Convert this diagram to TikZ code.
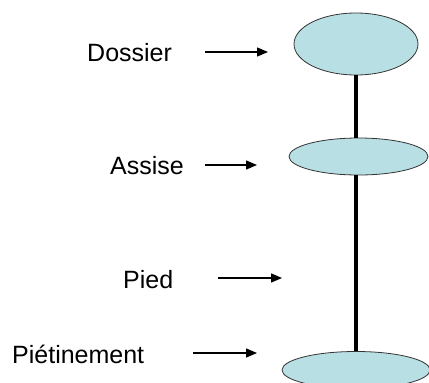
\documentclass[tikz,border=0pt]{standalone}
\usepackage{fontspec}
\setmainfont{Liberation Sans}
\usetikzlibrary{positioning,arrows.meta,shapes.geometric}
\definecolor{seatblue}{RGB}{184,224,228}
\tikzset{
part/.style={ellipse,draw=black!80,fill=seatblue,line width=0.8pt,inner sep=0pt},
leg/.style={line width=4.5pt,black},
explain/.style={font=\fontsize{25}{30}\selectfont,inner sep=0pt,anchor=base west},
pointer/.style={-{Triangle[length=11pt,width=9pt]},line width=1.3pt}
}

\begin{document}
\begin{tikzpicture}[x=1pt,y=-1pt]
\useasboundingbox (0,0) rectangle (429,383);
% the three parts of the chair
\node[part,minimum width=124pt,minimum height=62pt] (dossier) at (356,44) {};
\node[part,minimum width=139pt,minimum height=37pt] (assise) at (358.5,156.5) {};
\node[part,minimum width=148pt,minimum height=37pt] (pietin) at (356,370) {};
\draw[leg] (dossier.south) -- (dossier.south |- assise.north);
\draw[leg] (dossier.south |- assise.south) -- (dossier.south |- pietin.north);
% labels
\node[explain] (ldossier) at (87,61) {Dossier};
\node[explain] (lassise) at (110,174) {Assise};
\node[explain] (lpied) at (123,288) {Pied};
\node[explain] (lpietin) at (12,363) {Piétinement};
\coordinate (tdossier) at (205,52);
\coordinate (hdossier) at (268,52);
\coordinate (tassise) at (205,165);
\coordinate (hassise) at (257,165);
\coordinate (tpied) at (218,278);
\coordinate (hpied) at (282,278);
\coordinate (tpietin) at (193,353);
\coordinate (hpietin) at (257,353);
\draw[pointer] (tdossier) -- (hdossier);
\draw[pointer] (tassise) -- (hassise);
\draw[pointer] (tpied) -- (hpied);
\draw[pointer] (tpietin) -- (hpietin);
\end{tikzpicture}
\end{document}
